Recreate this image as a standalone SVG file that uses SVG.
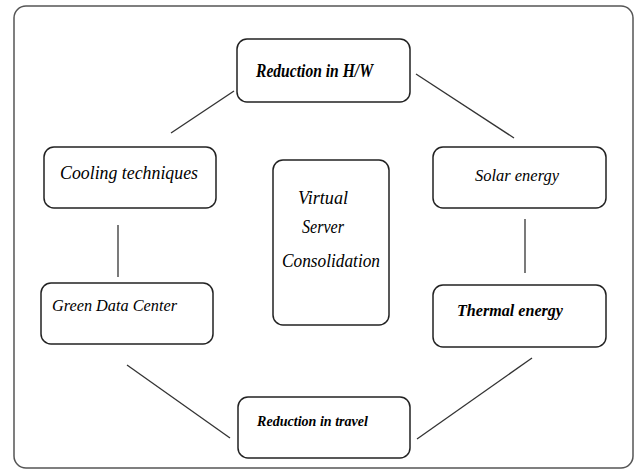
<svg xmlns="http://www.w3.org/2000/svg" width="637" height="469" viewBox="0 0 637 469">
<style>
.frame{fill:#fff;stroke:#555;stroke-width:1.5}
.box{fill:#fff;stroke:#222;stroke-width:1.5}
.conn line{stroke:#333;stroke-width:1.3}
</style>
<rect width="637" height="469" fill="#fff"/>
<rect class="frame" x="14" y="6" width="619" height="462" rx="12"/>
<g class="conn">
<line x1="234" y1="91" x2="171" y2="133"/>
<line x1="416" y1="74" x2="514" y2="138"/>
<line x1="118" y1="225" x2="118" y2="277"/>
<line x1="525" y1="219" x2="525" y2="273"/>
<line x1="127" y1="365" x2="230" y2="438"/>
<line x1="532" y1="358" x2="417" y2="439"/>
</g>
<g font-family="Liberation Serif, serif" font-style="italic" fill="#000">
<g id="hw"><rect class="box" x="237" y="39" width="173" height="63" rx="10"/><text font-weight="bold" x="256" y="77" font-size="18" textLength="117" lengthAdjust="spacingAndGlyphs">Reduction in H/W</text></g>
<g id="cooling"><rect class="box" x="44" y="147" width="172" height="61" rx="10"/><text x="60" y="179" font-size="18" textLength="138" lengthAdjust="spacingAndGlyphs">Cooling techniques</text></g>
<g id="solar"><rect class="box" x="433" y="147" width="173" height="61" rx="10"/><text x="475" y="181" font-size="17" textLength="84" lengthAdjust="spacingAndGlyphs">Solar energy</text></g>
<g id="virtual"><rect class="box" x="273" y="160" width="116" height="165" rx="10"/><text x="298" y="204" font-size="18" textLength="50" lengthAdjust="spacingAndGlyphs">Virtual</text><text x="302" y="233" font-size="18" textLength="42" lengthAdjust="spacingAndGlyphs">Server</text><text x="282" y="267" font-size="18" textLength="98" lengthAdjust="spacingAndGlyphs">Consolidation</text></g>
<g id="green"><rect class="box" x="41" y="283" width="172" height="61" rx="10"/><text x="52" y="311" font-size="17" textLength="125" lengthAdjust="spacingAndGlyphs">Green Data Center</text></g>
<g id="thermal"><rect class="box" x="433" y="285" width="173" height="62" rx="10"/><text font-weight="bold" x="457" y="316" font-size="17" textLength="106" lengthAdjust="spacingAndGlyphs">Thermal energy</text></g>
<g id="travel"><rect class="box" x="238" y="397" width="172" height="61" rx="10"/><text font-weight="bold" x="257" y="426" font-size="15" textLength="111" lengthAdjust="spacingAndGlyphs">Reduction in travel</text></g>
</g>
</svg>
